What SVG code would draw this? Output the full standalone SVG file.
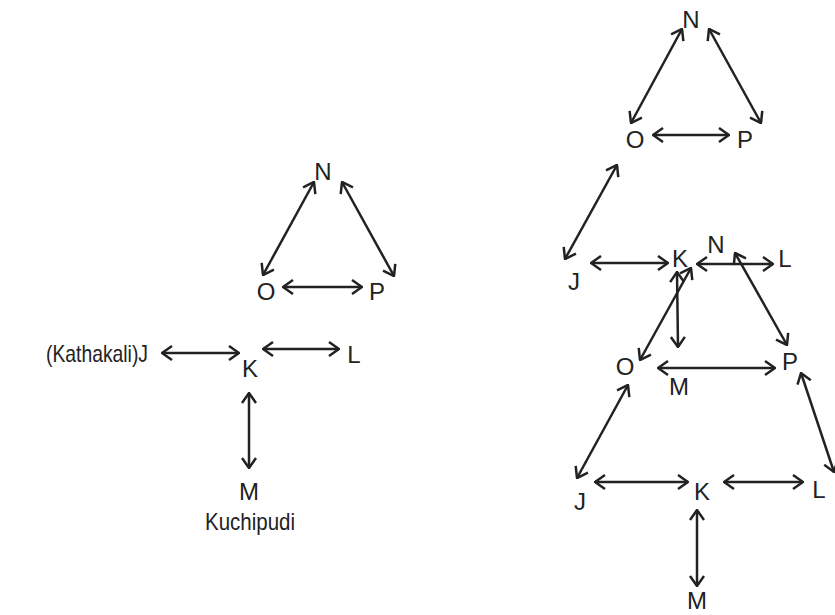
<svg xmlns="http://www.w3.org/2000/svg" width="835" height="615" viewBox="0 0 835 615">
<style>
text{font-family:"Liberation Sans",Arial,sans-serif;font-size:24px;fill:#222;text-anchor:middle}
text.s{text-anchor:start}
.c line{stroke:#222;stroke-width:2.5;fill:none;marker-start:url(#ah);marker-end:url(#ah)}
</style>
<defs>
<marker id="ah" markerUnits="userSpaceOnUse" viewBox="0 0 12 16" refX="11" refY="8" markerWidth="12" markerHeight="16" orient="auto-start-reverse">
<path d="M1,1 L11,8 L1,15" fill="none" stroke="#222" stroke-width="2.5"/>
</marker>
</defs>
<rect width="835" height="615" fill="#fff"/>
<g id="connectors" class="c">
<line x1="314" y1="182" x2="263" y2="275"/>
<line x1="342" y1="182" x2="394" y2="276"/>
<line x1="283" y1="287" x2="362" y2="287"/>
<line x1="162" y1="353" x2="239" y2="353"/>
<line x1="263" y1="349" x2="339" y2="349"/>
<line x1="249" y1="393" x2="249" y2="468"/>
<line x1="682" y1="29" x2="631" y2="123"/>
<line x1="709" y1="29" x2="761" y2="123"/>
<line x1="653" y1="135" x2="729" y2="135"/>
<line x1="617" y1="165" x2="565" y2="259"/>
<line x1="591" y1="263" x2="668" y2="263"/>
<line x1="697" y1="264" x2="773" y2="264"/>
<line x1="735" y1="253" x2="787" y2="345"/>
<line x1="677" y1="272" x2="678" y2="347"/>
<line x1="691" y1="268" x2="640" y2="360"/>
<line x1="658" y1="368" x2="775" y2="368"/>
<line x1="628" y1="385" x2="577" y2="478"/>
<line x1="801" y1="373" x2="834" y2="472"/>
<line x1="595" y1="482" x2="688" y2="482"/>
<line x1="724" y1="482" x2="803" y2="482"/>
<line x1="697" y1="510" x2="697" y2="586"/>
</g>
<g id="left-N"><text x="323" y="180">N</text></g>
<g id="left-O"><text x="266" y="300">O</text></g>
<g id="left-P"><text x="377" y="300">P</text></g>
<g id="left-J"><text class="s" x="46" y="362" textLength="102" lengthAdjust="spacingAndGlyphs">(Kathakali)J</text></g>
<g id="left-K"><text x="250" y="377">K</text></g>
<g id="left-L"><text x="354" y="363">L</text></g>
<g id="left-M"><text x="249" y="500">M</text><text class="s" x="205" y="530" textLength="90" lengthAdjust="spacingAndGlyphs">Kuchipudi</text></g>
<g id="right-N1"><text x="691" y="28">N</text></g>
<g id="right-O1"><text x="635" y="148">O</text></g>
<g id="right-P1"><text x="745" y="148">P</text></g>
<g id="right-J1"><text x="574" y="290">J</text></g>
<g id="right-K1"><text x="680" y="267">K</text></g>
<g id="right-N2"><text x="716" y="253">N</text></g>
<g id="right-L1"><text x="785" y="267">L</text></g>
<g id="right-O2"><text x="625" y="375">O</text></g>
<g id="right-P2"><text x="790" y="370">P</text></g>
<g id="right-M1"><text x="679" y="395">M</text></g>
<g id="right-J2"><text x="580" y="510">J</text></g>
<g id="right-K2"><text x="702" y="500">K</text></g>
<g id="right-L2"><text x="819" y="498">L</text></g>
<g id="right-M2"><text x="697" y="609">M</text></g>
</svg>
